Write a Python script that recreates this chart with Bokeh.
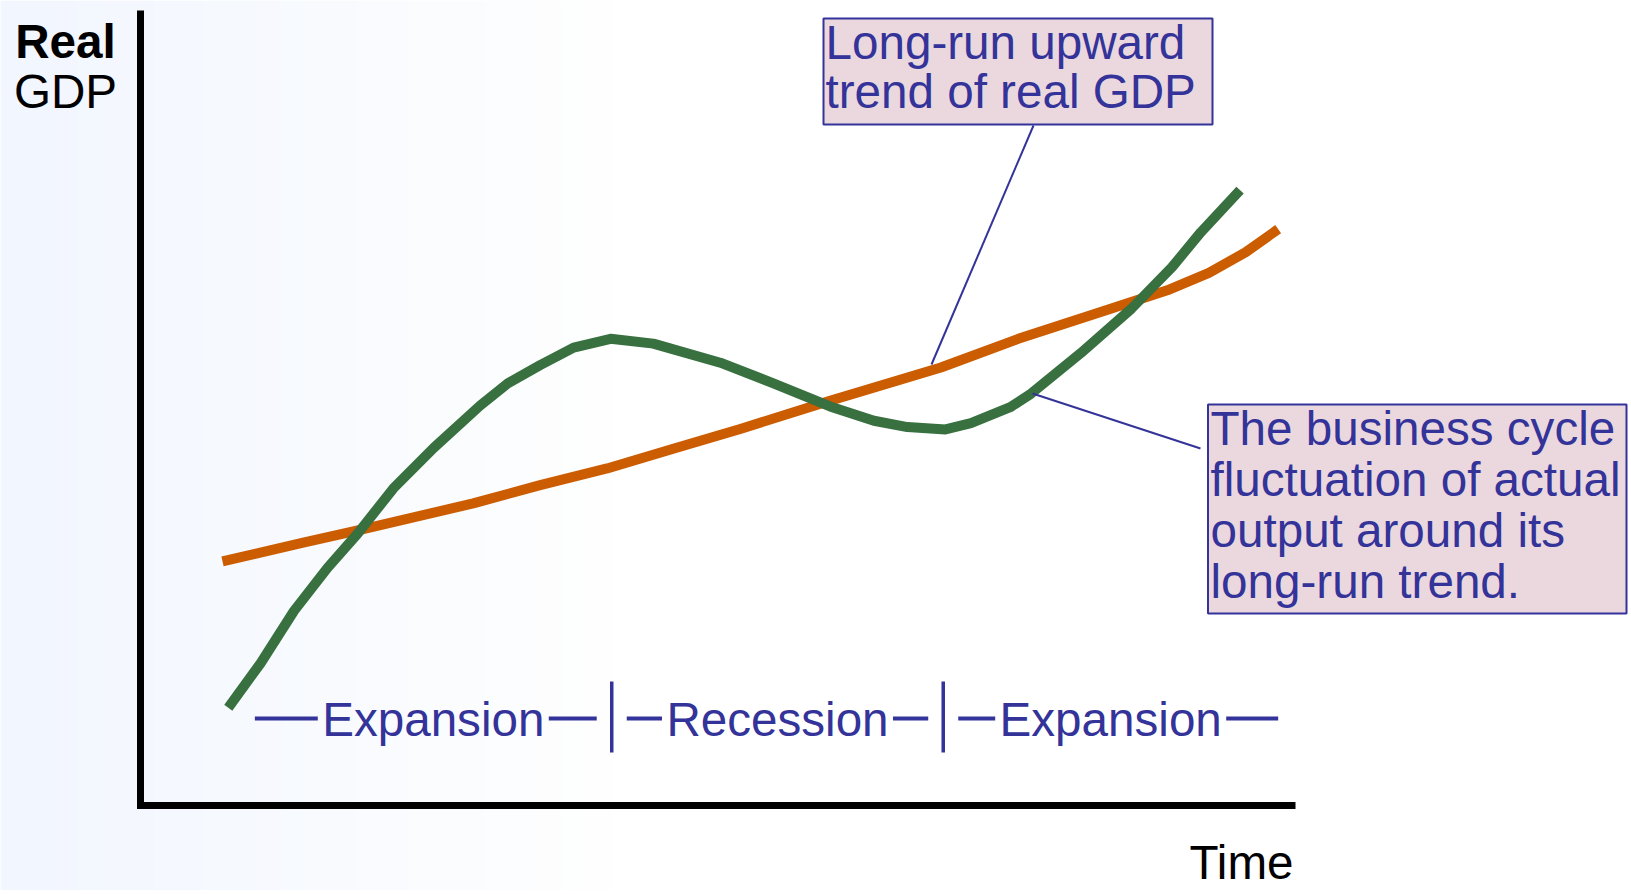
import numpy as np
from bokeh.plotting import figure
from bokeh.models import Range1d
from bokeh.core.properties import value
from bokeh.embed import file_html
from bokeh.resources import INLINE

# ---- data (time 0-100, real GDP 0-100) ----
actual_t = [7.6, 10.4, 13.3, 16.2, 18.8, 21.9, 25.4, 29.4, 31.8, 34.6, 37.5, 40.7,
            44.4, 50.2, 54.8, 59.7, 63.5, 66.4, 69.7, 71.9, 75.3, 77.1, 81.4, 85.8,
            89.3, 91.8, 95.2]
actual_gdp = [12.3, 17.9, 24.5, 29.9, 34.2, 39.9, 45.0, 50.3, 53.1, 55.4, 57.6, 58.7,
              58.1, 55.7, 53.1, 50.2, 48.4, 47.6, 47.3, 48.1, 50.1, 51.8, 56.9, 62.5,
              67.7, 72.1, 77.4]

trend_t = [7.1, 13.9, 19.1, 28.8, 34.6, 40.4, 46.2, 52.0, 59.7, 69.3, 76.0, 83.6,
           88.9, 92.5, 95.7, 98.5]
trend_gdp = [30.7, 33.0, 34.7, 38.0, 40.3, 42.4, 44.9, 47.4, 50.9, 55.1, 58.7, 62.3,
             64.8, 67.0, 69.6, 72.5]

phase_names = ["Expansion", "Recession", "Expansion"]
phase_start = [9.9, 40.8, 69.5]
phase_end = [40.8, 69.5, 98.5]

trend_note = ["Long-run upward", "trend of real GDP"]
cycle_note = ["The business cycle", "fluctuation of actual", "output around its",
              "long-run trend."]

W, H = 1628, 890
TEXT_SHIFT = 17  # renderer baseline correction, px

# ---- layout helpers (page pixel -> data units) ----
def tx(px):
    return (px - 140) / 11.55

def gy(py):
    return (805 - py) / 7.95

def by(py):
    # baseline position for text glyphs
    return gy(py - TEXT_SHIFT)

FONT = value("Liberation Sans")
BLUE = "#333399"
FS = value("47.6px")

p = figure(width=W, height=H, x_range=Range1d(tx(0), tx(W)),
           y_range=Range1d(gy(H), gy(0)), x_axis_type=None, y_axis_type=None,
           output_backend="svg", toolbar_location=None, min_border=0)
p.outline_line_color = None
p.background_fill_color = "white"
p.border_fill_color = "white"

# soft background gradient
ncol = 64
cols = np.linspace(0, W, ncol)
img = np.zeros((1, ncol), dtype=np.uint32)
view = img.view(dtype=np.uint8).reshape((1, ncol, 4))
for i, c in enumerate(cols):
    f = min(c / 620.0, 1.0)
    view[0, i, 0] = int(242 + (255 - 242) * f)
    view[0, i, 1] = int(246 + (255 - 246) * f)
    view[0, i, 2] = int(254 + (255 - 254) * f)
    view[0, i, 3] = 255
p.image_rgba(image=[img], x=tx(0), y=gy(H), dw=tx(W) - tx(0), dh=gy(0) - gy(H))

# axes
p.line([0, 0, 100], [100, 0, 0], line_color="black", line_width=7, line_join="miter")

# curves
p.line(trend_t, trend_gdp, line_color="#CC5C00", line_width=10, line_join="round")
p.line(actual_t, actual_gdp, line_color="#387040", line_width=10, line_join="round")

# axis labels
p.text(x=[tx(65)], y=[by(58)], text=["Real"], text_font=FONT, text_font_size=FS,
       text_font_style="bold", text_align="center", text_baseline="alphabetic",
       text_color="black")
p.text(x=[tx(65)], y=[by(108)], text=["GDP"], text_font=FONT, text_font_size=FS,
       text_align="center", text_baseline="alphabetic", text_color="black")
p.text(x=[tx(1189)], y=[by(879)], text=["Time"], text_font=FONT, text_font_size=FS,
       text_align="left", text_baseline="alphabetic", text_color="black")

# phases
half_w = 110.5 / 11.55
gap = 5 / 11.55
pad = 15 / 11.55
dash_y = gy(718)
xs0, xs1 = [], []
for i, (a, b) in enumerate(zip(phase_start, phase_end)):
    mid = (a + b) / 2
    left_start = a if i == 0 else a + pad
    right_end = b if i == len(phase_names) - 1 else b - pad
    xs0 += [left_start, mid + half_w + gap]
    xs1 += [mid - half_w - gap, right_end]
p.segment(x0=xs0, y0=[dash_y] * len(xs0), x1=xs1, y1=[dash_y] * len(xs1),
          line_color=BLUE, line_width=4)
bounds = phase_start[1:]
p.segment(x0=bounds, y0=[gy(681)] * len(bounds), x1=bounds, y1=[gy(752)] * len(bounds),
          line_color=BLUE, line_width=3.5)
p.text(x=[(a + b) / 2 for a, b in zip(phase_start, phase_end)], y=[by(736)] * 3,
       text=phase_names, text_font=FONT, text_font_size=FS, text_align="center",
       text_baseline="alphabetic", text_color=BLUE)

# callout boxes
p.quad(left=[tx(823), tx(1207.5)], right=[tx(1212), tx(1626)],
       top=[gy(18), gy(404)], bottom=[gy(124), gy(613)],
       fill_color="#EBD8DE", line_color=BLUE, line_width=2)
p.text(x=[tx(825)] * 2, y=[by(59), by(108)], text=trend_note, text_font=FONT,
       text_font_size=FS, text_align="left", text_baseline="alphabetic", text_color=BLUE)
p.text(x=[tx(1210)] * 4, y=[by(445), by(496), by(547), by(598)], text=cycle_note,
       text_font=FONT, text_font_size=FS, text_align="left", text_baseline="alphabetic",
       text_color=BLUE)

# leader lines
p.segment(x0=[tx(1033), tx(1032)], y0=[gy(125), gy(393)],
          x1=[tx(931), tx(1200)], y1=[gy(364), gy(448)],
          line_color=BLUE, line_width=2)

open("out.html", "w").write(file_html(p, INLINE))
